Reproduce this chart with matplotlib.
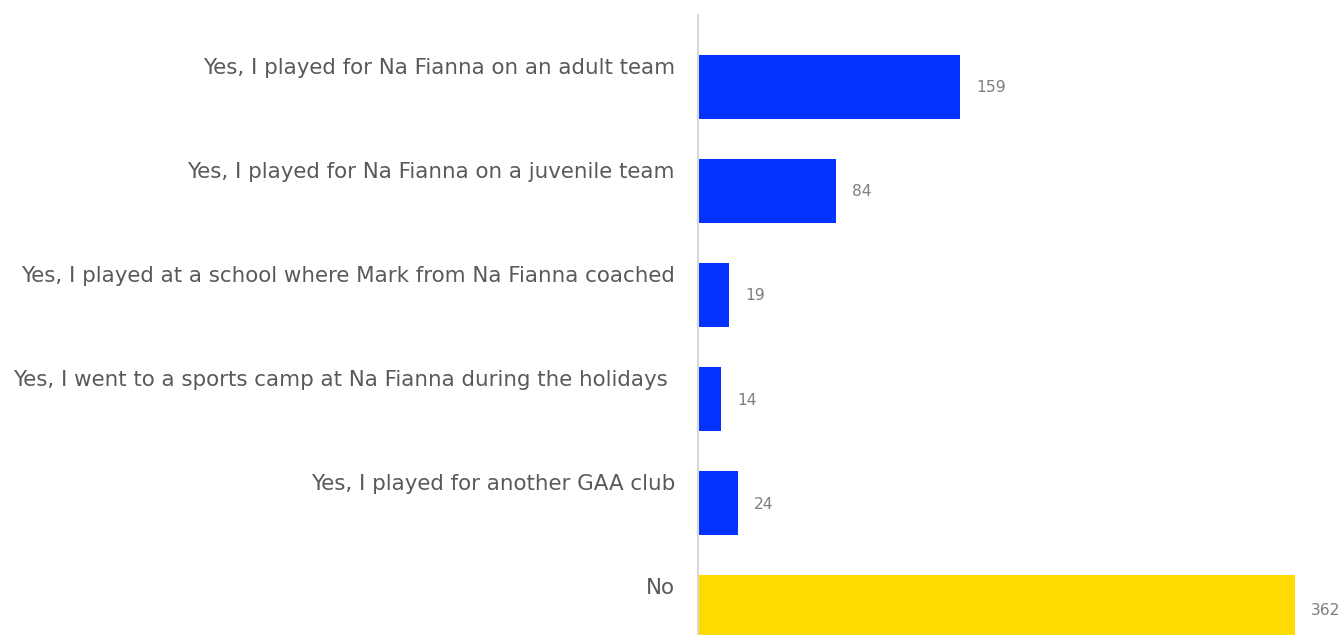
import matplotlib
matplotlib.use('Agg')
import matplotlib.pyplot as plt

# survey answers, top to bottom
categories = [
    'Yes, I played for Na Fianna on an adult team',
    'Yes, I played for Na Fianna on a juvenile team',
    'Yes, I played at a school where Mark from Na Fianna coached',
    'Yes, I went to a sports camp at Na Fianna during the holidays ',
    'Yes, I played for another GAA club',
    'No',
]
counts = [159, 84, 19, 14, 24, 362]
bar_colors = ['#0433FF'] * 5 + ['#FFDC00']

W, H = 1343, 635
fig = plt.figure(figsize=(W / 100, H / 100), dpi=100)
# axes: left edge at x=698px, top at y=15px, runs off the bottom of the figure
ax = fig.add_axes([698 / W, 0, 1 - 698 / W, (H - 15) / H])

ypos = list(range(len(categories)))
ax.barh(ypos, counts, height=0.62, color=bar_colors)
ax.set_xlim(0, (W - 698) / 1.648)
ax.set_ylim(5.269, -0.692)

for i, (lab, v) in enumerate(zip(categories, counts)):
    ax.annotate(lab, xy=(0, i), xytext=(-23, 19), textcoords='offset pixels',
                ha='right', va='center', fontsize=15.4, color='#595959')
    ax.annotate(str(v), xy=(v, i), xytext=(16, -1 if i < 5 else -3), textcoords='offset pixels',
                ha='left', va='center', fontsize=11.2, color='#7F7F7F')

for s in ['top', 'right', 'bottom']:
    ax.spines[s].set_visible(False)
ax.spines['left'].set_color('#D9D9D9')
ax.spines['left'].set_linewidth(1.5)
ax.set_xticks([])
ax.set_yticks([])

fig.savefig('out.png', dpi=100)
